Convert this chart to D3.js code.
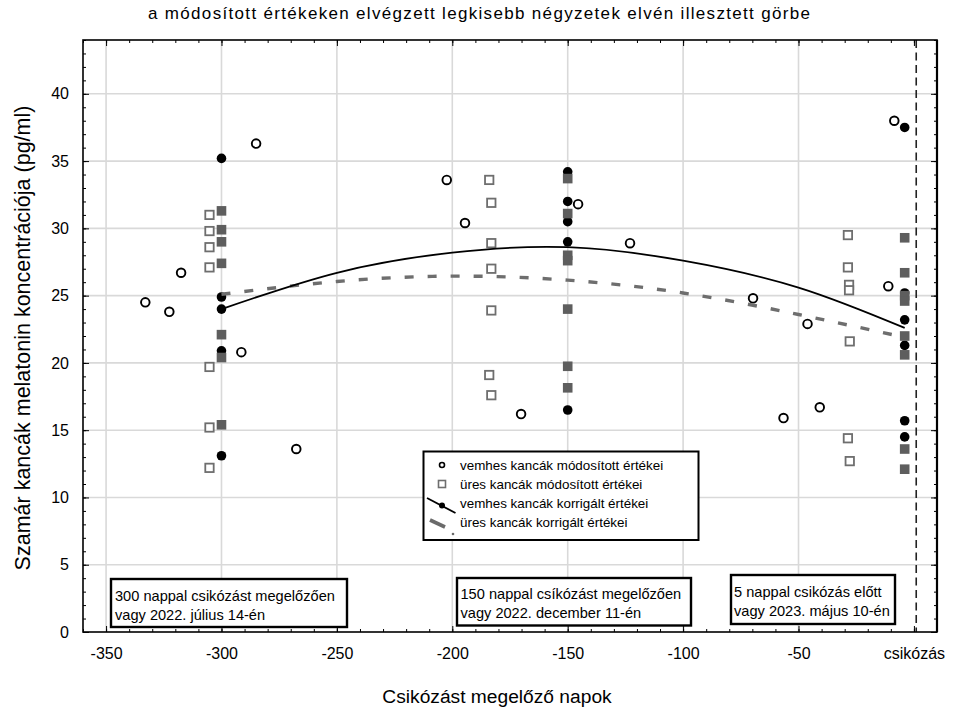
<!DOCTYPE html>
<html><head><meta charset="utf-8">
<script src="https://cdn.jsdelivr.net/npm/d3@7"></script>
<style>body{margin:0;background:#fff}svg{display:block}text{font-family:"Liberation Sans",Arial,sans-serif;fill:#000}</style>
</head><body><svg id="c" width="955" height="709"></svg>
<script>
// ---- data ----
const xTicks = [-350, -300, -250, -200, -150, -100, -50, 0];
const xTickLabels = ["-350", "-300", "-250", "-200", "-150", "-100", "-50", "csikózás"];
const yTicks = [0, 5, 10, 15, 20, 25, 30, 35, 40];

// vemhes kancák módosított értékei (open circles)
const vemhesModX = [-333, -322.6, -317.5, -291.4, -285, -267.6, -202.4, -194.5, -170.2, -145.5, -123, -69.7, -56.5, -46.1, -40.8, -11.1, -8.5];
const vemhesModY = [24.5, 23.8, 26.7, 20.8, 36.3, 13.6, 33.6, 30.4, 16.2, 31.8, 28.9, 24.8, 15.9, 22.9, 16.7, 25.7, 38.0];

// üres kancák módosított értékei (open squares)
const uresModX = [-305.2, -305.2, -305.2, -305.2, -305.2, -305.2, -305.2,
                  -184, -183.1, -183.1, -183.1, -183.1, -184, -183.1,
                  -28.6, -28.6, -28.1, -28.1, -27.8, -28.6, -27.8];
const uresModY = [31.0, 29.8, 28.6, 27.1, 19.7, 15.2, 12.2,
                  33.6, 31.9, 28.9, 27.0, 23.9, 19.1, 17.6,
                  29.5, 27.1, 25.8, 25.4, 21.6, 14.4, 12.7];

// vemhes kancák korrigált értékei (filled circles)
const vemhesKorX = [-300, -300, -300, -300, -300, -150, -150, -150, -150, -150, -4, -4, -4, -4, -4, -4];
const vemhesKorY = [35.2, 24.9, 24.0, 20.9, 13.1, 34.2, 32.0, 30.5, 29.0, 16.5, 37.5, 25.2, 23.2, 21.3, 15.7, 14.5];

// üres kancák korrigált értékei (filled squares)
const uresKorX = [-300, -300, -300, -300, -300, -300, -300, -150, -150, -150, -150, -150, -150, -150, -4, -4, -4, -4, -4, -4, -4, -4];
const uresKorY = [31.3, 29.9, 29.0, 27.4, 22.1, 20.4, 15.4, 33.7, 31.1, 28.0, 27.6, 24.0, 19.75, 18.15, 29.3, 26.7, 25.0, 24.6, 22.0, 20.6, 13.6, 12.1];

// fitted curves
const fitX = [-300, -250, -200, -150, -100, -50, -4];
const fitVemhesY = [24.0, 26.7, 28.2, 28.6, 27.6, 25.6, 22.6];
const fitUresY = [25.1, 26.05, 26.45, 26.15, 25.2, 23.6, 21.9];

const legendLabels = ["vemhes kancák módosított értékei", "üres kancák módosított értékei", "vemhes kancák korrigált értékei", "üres kancák korrigált értékei"];
const notes = [["300 nappal csikózást megelőzően", "vagy 2022. július 14-én"],
               ["150 nappal csíkózást megelőzően", "vagy 2022. december 11-én"],
               ["5 nappal csikózás előtt", "vagy 2023. május 10-én"]];

// ---- layout ----
const pL = 83, pR = 937, pT = 40, pB = 632;
const svg = d3.select("#c");
const x = d3.scaleLinear().domain([-360, 10]).range([pL, pR]);
const y = d3.scaleLinear().domain([0, 44]).range([pB, pT]);
const GRAY = "#5e5e5e", OGRAY = "#6e6e6e";

// gridlines
const grid = svg.append("g");
grid.selectAll(".vg").data(xTicks.filter(d => d !== 0)).join("line")
  .attr("x1", d => x(d)).attr("x2", d => x(d)).attr("y1", pT).attr("y2", pB)
  .attr("stroke", "#d9d9d9").attr("stroke-width", 1.6);
grid.selectAll(".hg").data(yTicks.filter(d => d !== 0)).join("line")
  .attr("x1", pL).attr("x2", pR).attr("y1", d => y(d)).attr("y2", d => y(d))
  .attr("stroke", "#d9d9d9").attr("stroke-width", 1.6);

// vertical dashed line at foaling
svg.append("line").attr("x1", x(1)).attr("x2", x(1)).attr("y1", pT).attr("y2", pB)
  .attr("stroke", "#222").attr("stroke-width", 1.6).attr("stroke-dasharray", "8,4.5");

// axes (ticks inward)
const minorX = d3.range(-360, 11, 10);
const minorY = d3.range(0, 45, 1);
function ax(gen, tx, ty, vals, size, fmt, pad) {
  const gg = svg.append("g").attr("transform", `translate(${tx},${ty})`)
    .call(gen.tickValues(vals).tickSize(size).tickPadding(pad || 3).tickFormat(fmt || ""));
  gg.select(".domain").remove();
  return gg;
}
ax(d3.axisBottom(x), 0, pB, minorX, -3);
const bMaj = ax(d3.axisBottom(x), 0, pB, xTicks, -6, (d, i) => xTickLabels[i], 16);
bMaj.selectAll("text").attr("font-size", 16).attr("font-family", "Liberation Sans, Arial, sans-serif");
ax(d3.axisTop(x), 0, pT, minorX, -3);
ax(d3.axisTop(x), 0, pT, xTicks, -6);
ax(d3.axisLeft(y), pL, 0, minorY, -3);
const lMaj = ax(d3.axisLeft(y), pL, 0, yTicks, -6, d3.format("d"), 14);
lMaj.selectAll("text").attr("font-size", 16).attr("font-family", "Liberation Sans, Arial, sans-serif");
ax(d3.axisRight(y), pR, 0, minorY, -3);
ax(d3.axisRight(y), pR, 0, yTicks, -6);
svg.selectAll(".tick line").attr("stroke", "#000").attr("stroke-width", 1);

// frame
svg.append("rect").attr("x", pL).attr("y", pT).attr("width", pR - pL).attr("height", pB - pT)
  .attr("fill", "none").attr("stroke", "#000").attr("stroke-width", 1.6);
svg.append("line").attr("x1", pR).attr("x2", pR).attr("y1", pT).attr("y2", pB).attr("stroke", "#000").attr("stroke-width", 2.2);

// points
const zip = (a, b) => a.map((v, i) => [v, b[i]]);
svg.append("g").selectAll("circle").data(zip(vemhesModX, vemhesModY)).join("circle")
  .attr("cx", d => x(d[0])).attr("cy", d => y(d[1])).attr("r", 4.3)
  .attr("fill", "#fff").attr("stroke", "#000").attr("stroke-width", 1.9);
svg.append("g").selectAll("rect").data(zip(uresModX, uresModY)).join("rect")
  .attr("x", d => x(d[0]) - 4.2).attr("y", d => y(d[1]) - 4.2).attr("width", 8.4).attr("height", 8.4)
  .attr("fill", "#fff").attr("stroke", OGRAY).attr("stroke-width", 1.8);
svg.append("g").selectAll("circle").data(zip(vemhesKorX, vemhesKorY)).join("circle")
  .attr("cx", d => x(d[0])).attr("cy", d => y(d[1])).attr("r", 4.8).attr("fill", "#000");
svg.append("g").selectAll("rect").data(zip(uresKorX, uresKorY)).join("rect")
  .attr("x", d => x(d[0]) - 4.8).attr("y", d => y(d[1]) - 4.8).attr("width", 9.6).attr("height", 9.6)
  .attr("fill", GRAY);

// fitted curves
const line = d3.line().x(d => x(d[0])).y(d => y(d[1])).curve(d3.curveNatural);
svg.append("path").attr("d", line(zip(fitX, fitUresY))).attr("fill", "none")
  .attr("stroke", "#6e6e6e").attr("stroke-width", 3.4).attr("stroke-dasharray", "9,14");
svg.append("path").attr("d", line(zip(fitX, fitVemhesY))).attr("fill", "none")
  .attr("stroke", "#000").attr("stroke-width", 1.8);

// legend
const lg = svg.append("g");
lg.append("rect").attr("x", 423.5).attr("y", 451.5).attr("width", 275).attr("height", 88.5)
  .attr("fill", "#fff").attr("stroke", "#000").attr("stroke-width", 2);
const ly = [465, 484, 503, 522];
lg.selectAll("text").data(legendLabels).join("text")
  .attr("x", 460).attr("y", (d, i) => ly[i] + 4.8).attr("font-size", 13.4).text(d => d);
lg.append("circle").attr("cx", 442).attr("cy", ly[0]).attr("r", 2.5).attr("fill", "#fff").attr("stroke", "#000").attr("stroke-width", 1.6);
lg.append("rect").attr("x", 438.5).attr("y", ly[1] - 3.5).attr("width", 7).attr("height", 7).attr("fill", "#fff").attr("stroke", OGRAY).attr("stroke-width", 1.6);
lg.append("line").attr("x1", 427).attr("y1", ly[2] - 5).attr("x2", 455.5).attr("y2", ly[2] + 10).attr("stroke", "#000").attr("stroke-width", 1.8);
lg.append("circle").attr("cx", 442).attr("cy", ly[2] + 2.5).attr("r", 3).attr("fill", "#000");
lg.append("line").attr("x1", 430).attr("y1", ly[3] - 2).attr("x2", 445).attr("y2", ly[3] + 5).attr("stroke", "#6a6a6a").attr("stroke-width", 3.6);
lg.append("circle").attr("cx", 453).attr("cy", ly[3] + 12).attr("r", 1.3).attr("fill", "#6a6a6a");

// annotation boxes
const boxes = [[111, 579, 236, 48, 115, 601, 620], [457, 578, 234, 47.5, 460.5, 599, 618], [731, 575, 164, 49, 734, 596.5, 615.5]];
boxes.forEach((b, i) => {
  svg.append("rect").attr("x", b[0]).attr("y", b[1]).attr("width", b[2]).attr("height", b[3])
    .attr("fill", "#fff").attr("stroke", "#000").attr("stroke-width", 2.4);
  svg.append("text").attr("x", b[4]).attr("y", b[5]).attr("font-size", 14.6).text(notes[i][0]);
  svg.append("text").attr("x", b[4]).attr("y", b[6]).attr("font-size", 14.6).text(notes[i][1]);
});

// titles
svg.append("text").attr("x", 479).attr("y", 19).attr("text-anchor", "middle").attr("font-size", 17)
  .attr("textLength", 662).attr("lengthAdjust", "spacing")
  .text("a módosított értékeken elvégzett legkisebb négyzetek elvén illesztett görbe");
svg.append("text").attr("x", 497).attr("y", 703).attr("text-anchor", "middle").attr("font-size", 19.2)
  .text("Csikózást megelőző napok");
svg.append("text").attr("transform", "translate(30,338) rotate(-90)").attr("text-anchor", "middle").attr("font-size", 21.5)
  .text("Szamár kancák melatonin koncentrációja (pg/ml)");
</script></body></html>
